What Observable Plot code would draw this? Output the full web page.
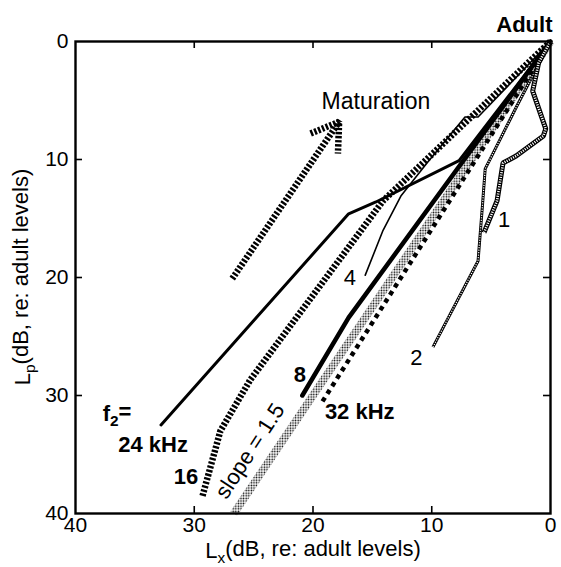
<!DOCTYPE html>
<html>
<head>
<meta charset="utf-8">
<script src="https://cdn.jsdelivr.net/npm/d3@7"></script>
<script src="https://cdn.jsdelivr.net/npm/@observablehq/plot@0.6"></script>
<style>
  body { margin: 0; background: #fff; }
  #chart { width: 561px; height: 567px; }
  text { font-family: "Liberation Sans", Arial, Helvetica, sans-serif; }
</style>
</head>
<body>
<div id="chart"></div>
<script>
// Axis ticks (dB re: adult levels)
const xTicks = [40, 30, 20, 10, 0];
const yTicks = [0, 10, 20, 30, 40];
const innerTicks = [10, 20, 30];

// Growth trajectories: Lx (primary level shift) vs Lp (DPOAE level shift)
const lx24 = [32.8, 17.0, 14.7, 7.7, 0];
const lp24 = [32.5, 14.6, 13.6, 10.1, 0];

const lx16 = [29.3, 27.8, 25.3, 14.1, 0];
const lp16 = [38.5, 33.0, 28.7, 13.5, 0];

const lx8 = [20.9, 17.0, 0];
const lp8 = [30.0, 23.4, 0];

const lx4 = [15.6, 14.1, 12.6, 10.4, 7.2, 6.1, 0];
const lp4 = [19.8, 16.0, 13.1, 10.3, 6.4, 6.4, 0];

const lx2 = [9.9, 6.1, 5.7, 5.5, 4.5, 2.8, 0];
const lp2 = [25.9, 18.6, 13.5, 10.8, 8.8, 5.4, 0];

const lx1 = [5.6, 4.5, 4.0, 2.9, 0.6, 0.4, 1.5, 1.0, 0];
const lp1 = [16.2, 13.5, 10.3, 9.7, 8.0, 7.4, 4.2, 1.8, 0];

const lx32 = [19.2, 0];
const lp32 = [30.5, 0];

// Reference line through the adult point
const slope = 1.5;
const slopeLx = [40 / slope, 0];

// Maturation arrow: shaft and the two barbs
const arrowShaftLx = [26.8, 17.8];
const arrowShaftLp = [20.1, 6.8];
const arrowBarbLx = [20.2, 17.8, 17.9];
const arrowBarbLp = [7.8, 6.8, 9.5];

const pts = (xs, ys) => xs.map((x, i) => ({lx: x, lp: ys[i]}));
const slopeLine = slopeLx.map(x => ({lx: x, lp: slope * x}));

const font = "Liberation Sans, Arial, Helvetica, sans-serif";
const tickLen = 7;
const butt = {strokeLinecap: "butt", strokeLinejoin: "miter"};
const hatched = {stroke: "black", strokeWidth: 6.5, strokeDasharray: "2.4,1.7", ...butt};

const chart = Plot.plot({
  width: 561,
  height: 567,
  marginLeft: 75,
  marginRight: 11,
  marginTop: 41,
  marginBottom: 54,
  style: {fontFamily: font, background: "white", color: "black"},
  x: {domain: [40, 0]},
  y: {domain: [40, 0]},
  marks: [
    // stippled reference band (slope = 1.5)
    Plot.line(slopeLine, {x: "lx", y: "lp", stroke: "url(#stipple)", strokeWidth: 8, ...butt}),
    // 32 kHz, heavy dashes
    Plot.line(pts(lx32, lp32), {x: "lx", y: "lp", stroke: "black", strokeWidth: 4.5, strokeDasharray: "4.5,4.5", ...butt}),
    // 16 kHz, hatched
    Plot.line(pts(lx16, lp16), {x: "lx", y: "lp", ...hatched}),
    // 24 kHz, solid
    Plot.line(pts(lx24, lp24), {x: "lx", y: "lp", stroke: "black", strokeWidth: 3}),
    // 8 kHz, heavy solid
    Plot.line(pts(lx8, lp8), {x: "lx", y: "lp", stroke: "black", strokeWidth: 4.5}),
    // 4 kHz, thin solid
    Plot.line(pts(lx4, lp4), {x: "lx", y: "lp", stroke: "black", strokeWidth: 1.6}),
    // 2 kHz, beaded
    Plot.line(pts(lx2, lp2), {x: "lx", y: "lp", stroke: "black", strokeWidth: 3, ...butt}),
    Plot.line(pts(lx2, lp2), {x: "lx", y: "lp", stroke: "white", strokeWidth: 1.3, strokeDasharray: "1.1,1.4", ...butt}),
    // 1 kHz, wide beaded
    Plot.line(pts(lx1, lp1), {x: "lx", y: "lp", stroke: "black", strokeWidth: 5, ...butt}),
    Plot.line(pts(lx1, lp1), {x: "lx", y: "lp", stroke: "white", strokeWidth: 2.6, strokeDasharray: "1.1,1.3", ...butt}),
    // maturation arrow
    Plot.line(pts(arrowShaftLx, arrowShaftLp), {x: "lx", y: "lp", ...hatched}),
    Plot.line(pts(arrowBarbLx, arrowBarbLp), {x: "lx", y: "lp", ...hatched}),

    // frame and inward ticks on all four sides
    Plot.frame({stroke: "black", strokeWidth: 2.4}),
    Plot.tickX(innerTicks, {x: d => d, insetTop: 472 - tickLen, stroke: "black", strokeWidth: 1.6}),
    Plot.tickX(innerTicks, {x: d => d, insetBottom: 472 - tickLen, stroke: "black", strokeWidth: 1.6}),
    Plot.tickY(innerTicks, {y: d => d, insetRight: 475 - tickLen, stroke: "black", strokeWidth: 1.6}),
    Plot.tickY(innerTicks, {y: d => d, insetLeft: 475 - tickLen, stroke: "black", strokeWidth: 1.6}),
    Plot.axisX(xTicks, {anchor: "bottom", tickSize: 0, tickPadding: 4, fontSize: 21, label: null}),
    Plot.axisY(yTicks, {anchor: "left", tickSize: 0, tickPadding: 7, fontSize: 21, label: null}),

    // annotations
    Plot.text(["Adult"], {x: 2.2, y: -1.4, text: d => d, fontSize: 22, fontWeight: "bold"}),
    Plot.text(["Maturation"], {x: 14.7, y: 5.1, text: d => d, fontSize: 23}),
    Plot.text(["1"], {x: 3.9, y: 15.1, text: d => d, fontSize: 22}),
    Plot.text(["2"], {x: 11.3, y: 26.8, text: d => d, fontSize: 22}),
    Plot.text(["4"], {x: 16.9, y: 20.0, text: d => d, fontSize: 22}),
    Plot.text(["8"], {x: 21.1, y: 28.3, text: d => d, fontSize: 22, fontWeight: "bold"}),
    Plot.text(["16"], {x: 30.7, y: 36.9, text: d => d, fontSize: 22, fontWeight: "bold"}),
    Plot.text(["24 kHz"], {x: 36.4, y: 34.2, text: d => d, fontSize: 22, fontWeight: "bold", textAnchor: "start"}),
    Plot.text(["32 kHz"], {x: 19.0, y: 31.4, text: d => d, fontSize: 22, fontWeight: "bold", textAnchor: "start"}),
    Plot.text(["slope = 1.5"], {x: 25.3, y: 34.7, text: d => d, fontSize: 22, rotate: -57})
  ]
});

document.getElementById("chart").appendChild(chart);

// stipple paint for the reference band
const svg = d3.select(chart);
const defs = svg.insert("defs", ":first-child");
const pat = defs.append("pattern")
  .attr("id", "stipple")
  .attr("patternUnits", "userSpaceOnUse")
  .attr("width", 2.6).attr("height", 2.6);
pat.append("rect").attr("width", 2.6).attr("height", 2.6).attr("fill", "white");
pat.append("circle").attr("cx", 1.3).attr("cy", 1.3).attr("r", 0.85).attr("fill", "black");

// labels with subscripts
function subLabel(parent, parts, attrs) {
  const t = parent.append("text").attr("font-family", font).attr("fill", "black");
  for (const [k, v] of Object.entries(attrs)) t.attr(k, v);
  for (const p of parts) {
    const s = t.append("tspan").text(p.text);
    if (p.sub) s.attr("font-size", "0.7em").attr("dy", "0.3em");
    if (p.after) s.attr("dy", "-0.3em");
  }
  return t;
}
const g = svg.append("g");
subLabel(g, [{text: "f"}, {text: "2", sub: true}, {text: "=", after: true}],
  {x: 117, y: 421, "font-size": 22, "font-weight": "bold"});
subLabel(g, [{text: "L"}, {text: "x", sub: true}, {text: "(dB, re: adult levels)", after: true}],
  {x: 313, y: 558, "font-size": 22, "text-anchor": "middle"});
subLabel(g, [{text: "L"}, {text: "p", sub: true}, {text: "(dB, re: adult levels)", after: true}],
  {x: 0, y: 0, "font-size": 22, "text-anchor": "middle", transform: "translate(30,277) rotate(-90)"});
</script>
</body>
</html>
